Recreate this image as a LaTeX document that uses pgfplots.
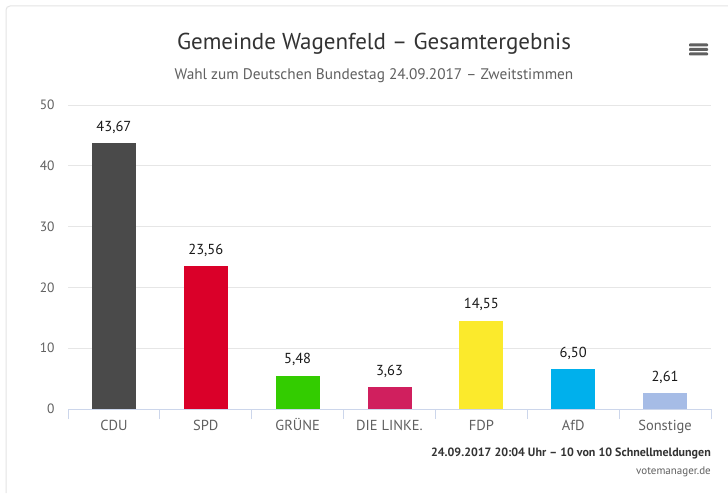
\documentclass[border=0pt]{standalone}
\usepackage{fontspec}
\setmainfont{PT Sans}
\usepackage{pgfplots}
\pgfplotsset{compat=1.18}
\definecolor{cdu}{HTML}{4A4A4A}
\definecolor{spd}{HTML}{DA0029}
\definecolor{gruene}{HTML}{33CC00}
\definecolor{linke}{HTML}{D01F5E}
\definecolor{fdp}{HTML}{FBEA2C}
\definecolor{afd}{HTML}{00B0EC}
\definecolor{sonst}{HTML}{A6BCE6}
\definecolor{gridgray}{HTML}{E6E6E6}
\definecolor{axisgray}{HTML}{CCD6EB}
\definecolor{labgray}{HTML}{606060}
\definecolor{boxgray}{HTML}{E4E4E4}
\begin{document}
\begin{tikzpicture}[x=1pt,y=1pt]
\useasboundingbox (0,0) rectangle (728,493);
\fill[white] (0,0) rectangle (728,493);
\draw[boxgray,line width=1pt] (6,0) -- (6,483) arc (180:90:4) -- (728,487);
\begin{axis}[
  at={(68pt,84pt)}, anchor=south west,
  scale only axis, width=643pt, height=304pt,
  xmin=-0.5, xmax=6.5, ymin=0, ymax=50,
  ytick={0,10,...,50},
  ymajorgrids, grid style={draw=gridgray, line width=0.8pt},
  axis x line*=bottom, axis y line*=left,
  x axis line style={draw=axisgray, line width=0.8pt, -},
  y axis line style={draw=none},
  major tick length=0pt,
  xtick={0,...,6},
  xticklabels={CDU,SPD,GRÜNE,DIE LINKE.,FDP,AfD,Sonstige},
  extra x ticks={-0.5,0.5,1.5,2.5,3.5,4.5,5.5,6.5},
  extra x tick labels={},
  extra x tick style={major tick length=10pt, tick align=outside, tick style={draw=axisgray, line width=0.8pt}},
  xticklabel style={font=\fontsize{14.5}{17}\selectfont, text=labgray, text height=11pt, text depth=3pt, yshift=-7pt},
  yticklabel style={font=\fontsize{13.5}{16}\selectfont, text=labgray, xshift=-10pt},
  /pgf/number format/assume math mode=true,
  ybar, bar width=44pt, bar shift=0pt,
  nodes near coords,
  nodes near coords style={font=\fontsize{14.5}{17}\selectfont, text=black!90, yshift=6pt,
    /pgf/number format/.cd, fixed, fixed zerofill, precision=2, use comma, assume math mode=true},
  clip=false,
]
\addplot[fill=cdu, draw=none] coordinates {(0,43.67)};
\addplot[fill=spd, draw=none] coordinates {(1,23.56)};
\addplot[fill=gruene, draw=none] coordinates {(2,5.48)};
\addplot[fill=linke, draw=none] coordinates {(3,3.63)};
\addplot[fill=fdp, draw=none] coordinates {(4,14.55)};
\addplot[fill=afd, draw=none] coordinates {(5,6.50)};
\addplot[fill=sonst, draw=none] coordinates {(6,2.61)};
\end{axis}
\node[text=black!80, font=\fontsize{23}{27}\selectfont] at (374,449) {Gemeinde Wagenfeld – Gesamtergebnis};
\node[text=labgray, font=\fontsize{15.3}{18}\selectfont] at (374,417) {Wahl zum Deutschen Bundestag 24.09.2017 – Zweitstimmen};
\node[anchor=east, inner sep=0pt, text=black!80, font=\bfseries\fontsize{12}{14}\selectfont] at (711,40) {24.09.2017 20:04 Uhr – 10 von 10 Schnellmeldungen};
\node[anchor=east, inner sep=0pt, text=labgray, font=\fontsize{11}{13}\selectfont] at (711,21) {votemanager.de};
\foreach \yy in {448,443.5,439} {\fill[labgray, rounded corners=0.8pt] (689,\yy-1.5) rectangle (708,\yy+1.5);}
\end{tikzpicture}
\end{document}
